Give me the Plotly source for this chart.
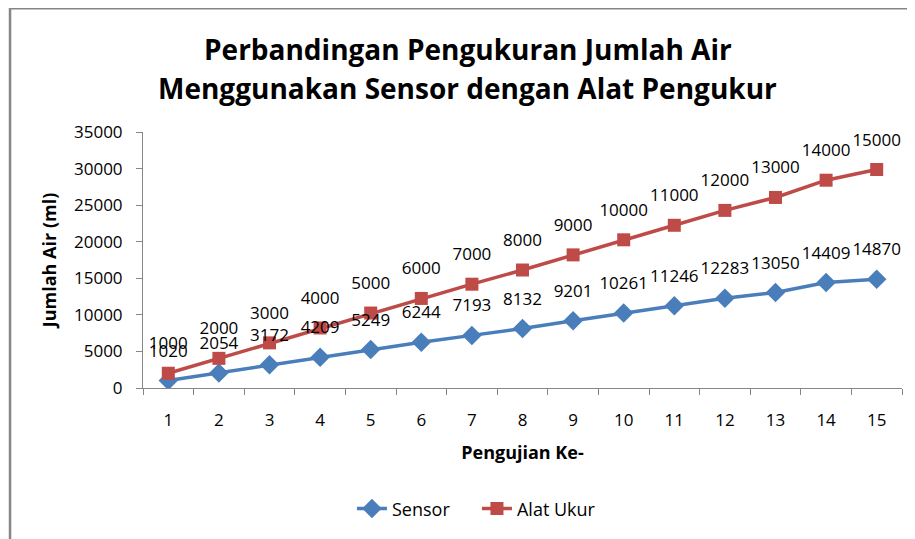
import plotly.graph_objects as go

pengujian = [str(i) for i in range(1, 16)]
sensor = [1020, 2054, 3172, 4209, 5249, 6244, 7193, 8132, 9201, 10261, 11246, 12283, 13050, 14409, 14870]
alat_ukur = [1000, 2000, 3000, 4000, 5000, 6000, 7000, 8000, 9000, 10000, 11000, 12000, 13000, 14000, 15000]
judul = ['Perbandingan Pengukuran Jumlah Air', 'Menggunakan Sensor dengan Alat Pengukur']

BLUE = '#4A7EBB'
RED = '#BE4B48'
FONT = 'Open Sans'

fig = go.Figure()

# lines (Excel stacked line chart)
fig.add_trace(go.Scatter(
    x=pengujian, y=sensor, name='Sensor', stackgroup='lines', fill='none',
    mode='lines+markers', line=dict(color=BLUE, width=3.5),
    marker=dict(symbol='diamond', size=15, color=BLUE)
))
fig.add_trace(go.Scatter(
    x=pengujian, y=alat_ukur, name='Alat Ukur', stackgroup='lines', fill='none',
    mode='lines+markers', line=dict(color=RED, width=3.5),
    marker=dict(symbol='square', size=13, color=RED)
))

# data labels, same stacking, invisible big markers push text up
for vals in (sensor, alat_ukur):
    fig.add_trace(go.Scatter(
        x=pengujian, y=vals, text=vals, stackgroup='labels', fill='none',
        mode='markers+text', textposition='top center', showlegend=False,
        marker=dict(size=30, opacity=0), line=dict(width=0),
        textfont=dict(family=FONT, size=17, color='#000000'), hoverinfo='skip'
    ))

# page body has an 8px margin, so the figure is a bit smaller
fig.update_layout(
    width=907, height=531,
    margin=dict(l=135, r=13, t=124, b=146),
    paper_bgcolor='white', plot_bgcolor='white',
    font=dict(family=FONT, color='#000000'),
    legend=dict(
        orientation='h', x=0.440, xanchor='center', y=-0.40, yanchor='top',
        font=dict(family=FONT, size=18, color='#000000'), entrywidth=80
    ),
    shapes=[dict(
        type='rect', xref='paper', yref='paper',
        x0=-0.1752, x1=1.2, y0=-1.0, y1=1.483,
        line=dict(color='#868686', width=2.5)
    )]
)

# two-line title, Excel spacing
for teks, ypos in zip(judul, [1.325, 1.172]):
    fig.add_annotation(
        text='<b>' + teks + '</b>', xref='paper', yref='paper',
        x=0.428, y=ypos, xanchor='center', yanchor='middle', showarrow=False,
        font=dict(family=FONT, size=28, color='#000000')
    )

fig.update_xaxes(
    type='category', range=[-0.5, 14.5], tickson='boundaries', ticks='outside', ticklen=6,
    tickcolor='#868686', showline=True, linecolor='#868686', linewidth=1,
    showgrid=False, ticklabelstandoff=17, automargin=False,
    tickfont=dict(family=FONT, size=17, color='#000000'),
    title=dict(text='<b>Pengujian Ke-</b>', font=dict(family=FONT, size=18), standoff=15)
)
fig.update_yaxes(
    range=[0, 35000], dtick=5000, tickformat='d', ticks='outside', ticklen=6,
    tickcolor='#868686', showline=True, linecolor='#868686', linewidth=1,
    showgrid=False, zeroline=False, ticklabelstandoff=10, automargin=False,
    tickfont=dict(family=FONT, size=17, color='#000000'),
    title=dict(text='<b>Jumlah Air (ml)</b>', font=dict(family=FONT, size=18), standoff=12)
)

fig.write_html('out.html')
